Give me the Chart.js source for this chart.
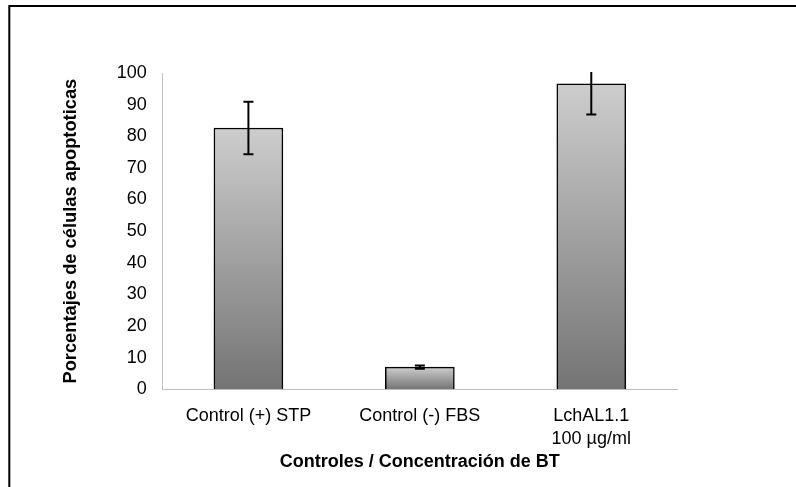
<!DOCTYPE html>
<html>
<head>
<meta charset="utf-8">
<script src="https://cdn.jsdelivr.net/npm/chart.js@4/dist/chart.umd.min.js"></script>
<style>
html,body{margin:0;padding:0;background:#fff;}
#c{display:block;}
</style>
</head>
<body>
<canvas id="c" width="796" height="487"></canvas>
<script>
const categories = ["Control (+) STP", "Control (-) FBS", ["LchAL1.1", "100 µg/ml"]];
const values = [82.6, 7.0, 96.6];
const errors = [8.3, 0.5, 9.7];
const yTicks = [0, 10, 20, 30, 40, 50, 60, 70, 80, 90, 100];
const yTitle = "Porcentajes de células apoptoticas";
const xTitle = "Controles / Concentración de BT";

const FONT = "'Liberation Sans', Arial, sans-serif";

const frame = {
  id: 'frame',
  afterDraw(chart) {
    const ctx = chart.ctx;
    ctx.save();
    ctx.strokeStyle = '#000';
    ctx.lineWidth = 2;
    ctx.beginPath();
    ctx.moveTo(796, 6);
    ctx.lineTo(9.3, 6);
    ctx.lineTo(9.3, 487);
    ctx.stroke();
    ctx.restore();
  }
};

const errorBars = {
  id: 'errorBars',
  afterDatasetsDraw(chart) {
    const ctx = chart.ctx;
    const x = chart.scales.x, y = chart.scales.y;
    const area = chart.chartArea;
    ctx.save();
    ctx.beginPath();
    ctx.rect(area.left, area.top - 1, area.right - area.left, area.bottom - area.top + 2);
    ctx.clip();
    ctx.strokeStyle = '#000';
    ctx.lineWidth = 2;
    values.forEach((v, i) => {
      const cx = x.getPixelForValue(i);
      const yh = y.getPixelForValue(v + errors[i]);
      const yl = y.getPixelForValue(v - errors[i]);
      ctx.beginPath();
      ctx.moveTo(cx, yh); ctx.lineTo(cx, yl);
      ctx.moveTo(cx - 5, yh); ctx.lineTo(cx + 5, yh);
      ctx.moveTo(cx - 5, yl); ctx.lineTo(cx + 5, yl);
      ctx.stroke();
    });
    ctx.restore();
  }
};

function barGradient(context) {
  const chart = context.chart;
  const y = chart.scales && chart.scales.y;
  if (!chart.chartArea || !y || context.dataIndex === undefined) return '#a0a0a0';
  const v = values[context.dataIndex];
  const top = y.getPixelForValue(v);
  const base = y.getPixelForValue(0);
  if (!isFinite(top) || !isFinite(base) || top === base) return '#a0a0a0';
  const g = chart.ctx.createLinearGradient(0, top, 0, base);
  g.addColorStop(0, '#cdcdcd');
  g.addColorStop(1, '#747474');
  return g;
}

new Chart(document.getElementById('c'), {
  type: 'bar',
  data: {
    labels: categories,
    datasets: [{
      data: values,
      backgroundColor: barGradient,
      borderColor: '#000',
      borderWidth: 1.5,
      barThickness: 69,
      borderSkipped: 'bottom'
    }]
  },
  options: {
    responsive: false,
    devicePixelRatio: 1,
    animation: false,
    layout: { padding: { left: 0, top: 73, right: 119, bottom: 0 } },
    plugins: { legend: { display: false }, tooltip: { enabled: false } },
    scales: {
      x: {
        grid: { display: false, drawTicks: false },
        border: { display: true, color: '#bfbfbf', width: 1 },
        ticks: { color: '#000', font: { family: FONT, size: 18, lineHeight: 1.3 }, padding: 15, maxRotation: 0, autoSkip: false },
        title: { display: true, text: xTitle, color: '#000', font: { family: FONT, size: 18, weight: 'bold' }, padding: { top: 0, bottom: 14 } },
        afterFit(s) { s.height = 97.7; }
      },
      y: {
        min: 0, max: 100,
        afterBuildTicks(s) { s.ticks = yTicks.map(v => ({ value: v })); },
        grid: { display: false, drawTicks: false },
        border: { display: true, color: '#bfbfbf', width: 1 },
        ticks: { color: '#000', font: { family: FONT, size: 18 }, padding: 16 },
        title: { display: true, text: yTitle, color: '#000', font: { family: FONT, size: 18.3, weight: 'bold' }, padding: { top: 60, bottom: 0 } },
        afterFit(s) { s.width = 162.7; }
      }
    }
  },
  plugins: [errorBars, frame]
});
</script>
</body>
</html>
